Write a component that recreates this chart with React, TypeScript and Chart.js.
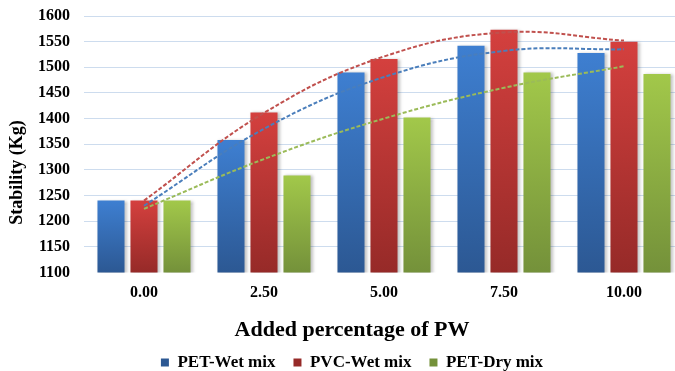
import { useEffect, useRef } from "react";
import { Chart, registerables } from "chart.js";

Chart.register(...registerables);

// Added percentage of plastic waste (x categories)
const categories = ["0.00", "2.50", "5.00", "7.50", "10.00"];

// Marshall stability (Kg) per mix
const petWet = [1240, 1358, 1490, 1542, 1528];
const pvcWet = [1240, 1412, 1516, 1573, 1550];
const petDry = [1240, 1289, 1402, 1490, 1487];

// Second-order trend curves, read at each category
const petWetTrend = [1230, 1380, 1481, 1532, 1535];
const pvcWetTrend = [1240, 1411, 1521, 1568, 1552];
const petDryTrend = [1224, 1321, 1400, 1460, 1502];

const yMin = 1100;
const yMax = 1600;
const yStep = 50;

const seriesNames = ["PET-Wet mix", "PVC-Wet mix", "PET-Dry mix"];
const xTitle = "Added percentage of PW";
const yTitle = "Stability (Kg)";

const SERIF = "'Liberation Serif', 'Times New Roman', serif";

function barGradient(top: string, bottom: string, solid: string) {
  return (ctx: any) => {
    const chart = ctx.chart;
    if (!chart.chartArea || ctx.type !== "data") return solid;
    const y = chart.scales.y;
    const y0 = y.getPixelForValue(ctx.raw as number);
    const y1 = y.getPixelForValue(y.min);
    const g = chart.ctx.createLinearGradient(0, y0, 0, y1);
    g.addColorStop(0, top);
    g.addColorStop(1, bottom);
    return g;
  };
}

// Soft shadow to the right of each bar
const barShadow = {
  id: "barShadow",
  beforeDatasetDraw(chart: any, args: any) {
    if (chart.data.datasets[args.index].type === "line") return;
    const c = chart.ctx;
    c.save();
    c.shadowColor = "rgba(0,0,0,0.25)";
    c.shadowBlur = 3;
    c.shadowOffsetX = 2;
    c.shadowOffsetY = 0;
  },
  afterDatasetDraw(chart: any, args: any) {
    if (chart.data.datasets[args.index].type === "line") return;
    chart.ctx.restore();
  },
};

// Rotated y-axis title, placed a little below the middle of the plot
const yAxisTitle = {
  id: "yAxisTitle",
  afterDraw(chart: any) {
    const a = chart.chartArea;
    const c = chart.ctx;
    c.save();
    c.translate(17, a.top + (a.bottom - a.top) * 0.61);
    c.rotate(-Math.PI / 2);
    c.font = `bold 18px ${SERIF}`;
    c.fillStyle = "#000";
    c.textAlign = "center";
    c.textBaseline = "middle";
    c.fillText(yTitle, 0, 0);
    c.restore();
  },
};

export default function App() {
  const ref = useRef<HTMLCanvasElement>(null);

  useEffect(() => {
    const trend = (data: number[], color: string) => ({
      type: "line" as const,
      data,
      borderColor: color,
      borderWidth: 2,
      borderDash: [4, 2],
      pointRadius: 0,
      tension: 0.4,
      fill: false,
      order: 0,
    });

    const chart = new Chart(ref.current!, {
      type: "bar",
      data: {
        labels: categories,
        datasets: [
          {
            label: seriesNames[0],
            data: petWet,
            backgroundColor: barGradient("#3e7fd1", "#2c5893", "#3a78c6"),
            order: 1,
          },
          {
            label: seriesNames[1],
            data: pvcWet,
            backgroundColor: barGradient("#d4403e", "#962a28", "#c43b3a"),
            order: 1,
          },
          {
            label: seriesNames[2],
            data: petDry,
            backgroundColor: barGradient("#a2c84a", "#74913a", "#94bd46"),
            order: 1,
          },
          trend(petWetTrend, "#4a7ebb") as any,
          trend(pvcWetTrend, "#c0504d") as any,
          trend(petDryTrend, "#9bbb59") as any,
        ],
      },
      options: {
        animation: false,
        responsive: true,
        maintainAspectRatio: false,
        layout: { padding: { left: 20, right: 16, top: 16, bottom: -10 } },
        datasets: {
          bar: { categoryPercentage: 0.825, barPercentage: 0.82 },
        },
        scales: {
          x: {
            grid: { display: false, drawTicks: false },
            border: { display: false },
            ticks: {
              color: "#000",
              padding: 11,
              font: { family: SERIF, size: 16, weight: "bold" },
            },
          },
          y: {
            min: yMin,
            max: yMax,
            afterFit: (s: any) => {
              s.width = 64;
              s.paddingTop = 0;
              s.paddingBottom = 0;
            },
            border: { display: false },
            grid: {
              drawTicks: false,
              color: (ctx: any) =>
                ctx.tick && ctx.tick.value === yMin ? "rgba(0,0,0,0)" : "#cddcee",
              lineWidth: 1,
            },
            ticks: {
              stepSize: yStep,
              autoSkip: false,
              callback: (v: any) => String(v),
              color: "#000",
              padding: 14,
              font: { family: SERIF, size: 16, weight: "bold" },
            },
          },
        },
        plugins: {
          tooltip: { enabled: false },
          title: {
            display: true,
            text: xTitle,
            position: "bottom",
            weight: 500,
            color: "#000",
            font: { family: SERIF, size: 22, weight: "bold" },
            padding: { top: 4, bottom: -8 },
          } as any,
          legend: {
            position: "bottom",
            labels: {
              filter: (item: any) => item.datasetIndex < 3,
              boxWidth: 8,
              boxHeight: 8,
              padding: 18,
              color: "#000",
              font: { family: SERIF, size: 17, weight: "bold" },
            },
          },
        },
      },
      plugins: [barShadow, yAxisTitle],
    });
    return () => chart.destroy();
  }, []);

  return (
    <div
      style={{
        position: "fixed",
        left: 0,
        top: 0,
        width: 675,
        height: 371,
        overflow: "hidden",
        background: "#fff",
      }}
    >
      <div style={{ position: "relative", width: 700, height: 371 }}>
        <canvas ref={ref} />
      </div>
    </div>
  );
}
